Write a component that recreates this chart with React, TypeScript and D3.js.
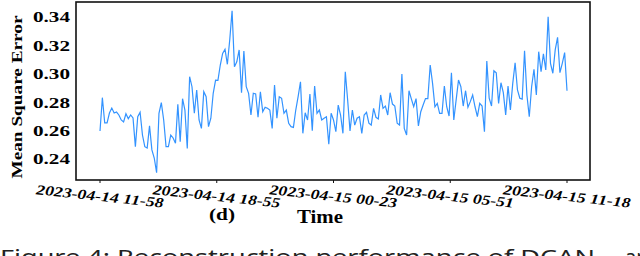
import React from "react";
import * as d3 from "d3";

const mseValues: number[] = [
  0.2599, 0.2834, 0.2656, 0.2656, 0.2726, 0.2761, 0.2726, 0.2733, 0.2712, 0.2677,
  0.2663, 0.2721, 0.2686, 0.2712, 0.2691, 0.2489, 0.2700, 0.2731, 0.2571, 0.2489,
  0.2480, 0.2635, 0.2466, 0.2409, 0.2306, 0.2724, 0.2799, 0.2677, 0.2489, 0.2489,
  0.2571, 0.2550, 0.2513, 0.2787, 0.2524, 0.2827, 0.2747, 0.2477, 0.2982, 0.2911,
  0.2724, 0.2888, 0.2677, 0.2618, 0.2876, 0.2841, 0.2630, 0.2689, 0.2865, 0.2958,
  0.2956, 0.3064, 0.3146, 0.3175, 0.3069, 0.3240, 0.3446, 0.3052, 0.3087, 0.3170,
  0.2869, 0.3163, 0.2911, 0.2865, 0.2712, 0.2865, 0.2860, 0.2696, 0.2876, 0.2735,
  0.2766, 0.2759, 0.2747, 0.2618, 0.2923, 0.2689, 0.2841, 0.2830, 0.2724, 0.2747,
  0.2654, 0.2630, 0.2625, 0.2747, 0.2841, 0.2946, 0.2583, 0.2728, 0.2677, 0.2860,
  0.2601, 0.2916, 0.2724, 0.2747, 0.2677, 0.2689, 0.2700, 0.2506, 0.2724, 0.2677,
  0.2594, 0.2782, 0.2712, 0.2583, 0.3017, 0.2818, 0.2599, 0.2747, 0.2641, 0.2689,
  0.2700, 0.2583, 0.2712, 0.2731, 0.2654, 0.2641, 0.2759, 0.2696, 0.2684, 0.2853,
  0.2759, 0.2775, 0.2712, 0.2869, 0.2789, 0.2775, 0.2654, 0.2641, 0.3001, 0.2618,
  0.2571, 0.2883, 0.2825, 0.2770, 0.2827, 0.2635, 0.2735, 0.2782, 0.2827, 0.2827,
  0.3064, 0.2935, 0.2770, 0.2794, 0.2724, 0.2724, 0.2916, 0.2770, 0.2705, 0.3010,
  0.2677, 0.2818, 0.2958, 0.2911, 0.2775, 0.2883, 0.2766, 0.2806, 0.2853, 0.2770,
  0.2700, 0.2794, 0.2775, 0.2594, 0.3092, 0.2830, 0.2775, 0.3024, 0.3010, 0.2794,
  0.2939, 0.2869, 0.2712, 0.2916, 0.2747, 0.2935, 0.3080, 0.2888, 0.2830, 0.2823,
  0.3165, 0.2853, 0.2700, 0.2911, 0.3034, 0.2853, 0.3158, 0.3017, 0.3142, 0.3029,
  0.3404, 0.3076, 0.3006, 0.3170, 0.3259, 0.3010, 0.3076, 0.3151, 0.2883,
];

const xTickLabels: string[] = [
  "2023-04-14 11-58",
  "2023-04-14 18-55",
  "2023-04-15 00-23",
  "2023-04-15 05-51",
  "2023-04-15 11-18",
];

const yTickValues: number[] = [0.24, 0.26, 0.28, 0.3, 0.32, 0.34];

const W = 640;
const H = 256;
const frame = { left: 76, right: 590, top: 2, bottom: 180 };

export default function App() {
  const n = mseValues.length;
  const x = d3.scaleLinear().domain([0, n - 1]).range([100, 567]);
  const y = d3
    .scaleLinear()
    .domain([0.34 - (frame.bottom - 17.3) / 1420, 0.34 + (17.3 - frame.top) / 1420])
    .range([frame.bottom, frame.top]);

  const line = d3
    .line<number>()
    .x((_, i) => x(i))
    .y((d) => y(d));

  const tickIdx = xTickLabels.map((_, i) => (i * (n - 1)) / (xTickLabels.length - 1));
  const serif = "'Liberation Serif', 'Times New Roman', serif";

  return (
    <svg
      width={W}
      height={H}
      style={{ position: "absolute", left: 0, top: 0, background: "#fff" }}
    >
      <rect x={0} y={0} width={W} height={H} fill="#fff" />
      <path d={line(mseValues) || ""} fill="none" stroke="#3393ff" strokeWidth={1.2} />
      <rect
        x={frame.left}
        y={frame.top}
        width={frame.right - frame.left}
        height={frame.bottom - frame.top}
        fill="none"
        stroke="#111"
        strokeWidth={1.6}
      />
      {yTickValues.map((v) => (
        <text
          key={v}
          x={70}
          y={y(v)}
          dy="0.35em"
          textAnchor="end"
          fontFamily={serif}
          fontWeight="bold"
          fontSize={14.5}
          textLength={37}
          lengthAdjust="spacingAndGlyphs"
          fill="#000"
        >
          {v.toFixed(2)}
        </text>
      ))}
      {tickIdx.map((t, i) => (
        <g key={i}>
          <line x1={x(t)} x2={x(t)} y1={frame.bottom} y2={frame.bottom + 3} stroke="#111" strokeWidth={1} />
          <text
            transform={`translate(${x(t)},${196}) rotate(6)`}
            textAnchor="middle"
            dy="0.35em"
            fontFamily={serif}
            fontWeight="bold"
            fontStyle="italic"
            fontSize={14}
            textLength={128}
            lengthAdjust="spacingAndGlyphs"
            fill="#000"
          >
            {xTickLabels[i]}
          </text>
        </g>
      ))}
      <text
        transform={`translate(17,${(frame.top + frame.bottom) / 2 + 6}) rotate(-90)`}
        textAnchor="middle"
        dy="0.35em"
        fontFamily={serif}
        fontWeight="bold"
        fontSize={15.5}
        textLength={163}
        lengthAdjust="spacingAndGlyphs"
        fill="#000"
      >
        Mean Square Error
      </text>
      <text
        x={222}
        y={220}
        textAnchor="middle"
        fontFamily={serif}
        fontWeight="bold"
        fontSize={17}
        textLength={26}
        lengthAdjust="spacingAndGlyphs"
        fill="#000"
      >
        (d)
      </text>
      <text
        x={320}
        y={222.5}
        textAnchor="middle"
        fontFamily={serif}
        fontWeight="bold"
        fontSize={18}
        textLength={46}
        lengthAdjust="spacingAndGlyphs"
        fill="#000"
      >
        Time
      </text>
      <text
        x={0}
        y={264}
        fontFamily="'Noto Sans', sans-serif"
        fontSize={20}
        textLength={595}
        lengthAdjust="spacingAndGlyphs"
        fill="#222"
      >
        Figure 4: Reconstruction performance of DCAN
      </text>
      <text x={625} y={264} fontFamily="'Noto Sans', sans-serif" fontSize={20} fill="#222">
        and
      </text>
    </svg>
  );
}
